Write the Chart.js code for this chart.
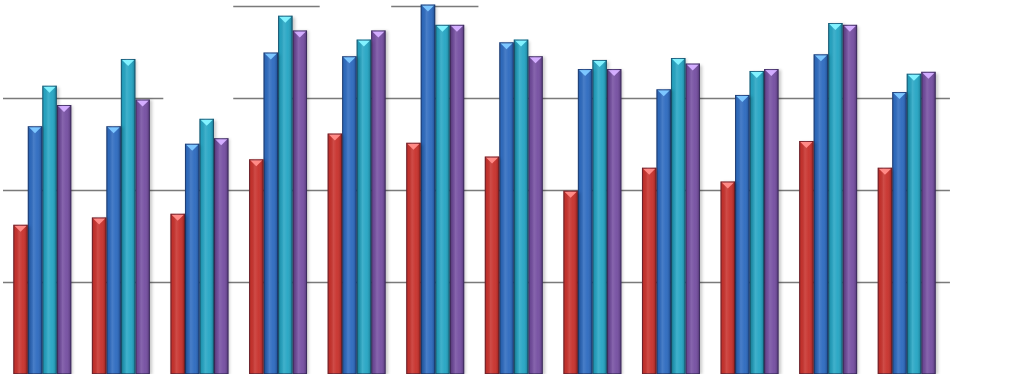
<!DOCTYPE html>
<html>
<head>
<meta charset="utf-8">
<script src="https://cdn.jsdelivr.net/npm/chart.js@4"></script>
<style>
html,body{margin:0;padding:0;background:#fff;}
#wrap{width:1023px;height:389px;position:relative;}
</style>
</head>
<body>
<div id="wrap"><canvas id="c" width="1023" height="389"></canvas></div>
<script>
// ---- data ----
const categories = ["1","2","3","4","5","6","7","8","9","10","11","12"];
const seriesRed    = [16.2, 17.0, 17.4, 23.3, 26.1, 25.1, 23.6, 19.9, 22.4, 20.9, 25.3, 22.4];
const seriesBlue   = [26.9, 26.9, 25.0, 34.9, 34.5, 40.1, 36.0, 33.1, 30.9, 30.3, 34.7, 30.6];
const seriesCyan   = [31.3, 34.2, 27.7, 38.9, 36.3, 37.9, 36.3, 34.1, 34.3, 32.9, 38.1, 32.6];
const seriesPurple = [29.2, 29.8, 25.6, 37.3, 37.3, 37.9, 34.5, 33.1, 33.7, 33.1, 37.9, 32.8];
const gridValues = [10, 20, 30, 40];

const palette = [
  {fill:'#c8332e', tip:'#ff8a86'},
  {fill:'#2f6cc0', tip:'#7cc6ff'},
  {fill:'#27a6c4', tip:'#82f2ff'},
  {fill:'#7650a2', tip:'#d3adff'}
];

// partial gridline segments in category units
const gridSegments = {
  10: [[-0.5, 11.55]],
  20: [[-0.5, 11.55]],
  30: [[-0.5, 1.54], [2.43, 11.55]],
  40: [[2.43, 3.53], [4.44, 5.55]]
};

const gridPlugin = {
  id: 'partialGrid',
  beforeDatasetsDraw(chart) {
    const ctx = chart.ctx, xs = chart.scales.x, ys = chart.scales.y;
    const x0 = xs.getPixelForValue(0), x1 = xs.getPixelForValue(1), step = x1 - x0;
    const px = v => x0 + v * step;
    ctx.save();
    ctx.strokeStyle = '#7a7a7a';
    ctx.lineWidth = 1.5;
    gridValues.forEach(v => {
      const y = Math.round(ys.getPixelForValue(v)) + 0.5;
      (gridSegments[v] || []).forEach(seg => {
        ctx.beginPath();
        ctx.moveTo(px(seg[0]), y);
        ctx.lineTo(px(seg[1]), y);
        ctx.stroke();
      });
    });
    ctx.restore();
  }
};

const barStylePlugin = {
  id: 'barStyle',
  beforeDatasetDraw(chart, args) {
    const ctx = chart.ctx;
    ctx.save();
    ctx.shadowColor = 'rgba(0,0,0,0.22)';
    ctx.shadowBlur = 3;
    ctx.shadowOffsetX = 2;
    ctx.shadowOffsetY = 1;
  },
  afterDatasetDraw(chart, args) {
    const ctx = chart.ctx;
    ctx.restore();
    const meta = args.meta;
    const col = palette[args.index];
    ctx.save();
    meta.data.forEach(el => {
      const p = el.getProps(['x','y','base','width'], true);
      const l = p.x - p.width / 2, r = p.x + p.width / 2;
      const top = p.y, bot = p.base;
      const g = ctx.createLinearGradient(l, 0, r, 0);
      g.addColorStop(0, 'rgba(0,0,0,0.2)');
      g.addColorStop(0.15, 'rgba(0,0,0,0.03)');
      g.addColorStop(0.4, 'rgba(255,255,255,0.12)');
      g.addColorStop(0.65, 'rgba(255,255,255,0.03)');
      g.addColorStop(0.88, 'rgba(0,0,0,0.12)');
      g.addColorStop(1, 'rgba(0,0,0,0.3)');
      ctx.fillStyle = g;
      ctx.fillRect(l, top, r - l, bot - top);
      // top bevel triangle
      const w = p.width;
      ctx.beginPath();
      ctx.moveTo(l + w * 0.08, top + 1);
      ctx.lineTo(r - w * 0.08, top + 1);
      ctx.lineTo(p.x, top + 7);
      ctx.closePath();
      ctx.fillStyle = col.tip;
      ctx.fill();
      // subtle outline
      ctx.strokeStyle = 'rgba(20,20,50,0.4)';
      ctx.lineWidth = 1;
      ctx.strokeRect(l + 0.5, top + 0.5, r - l - 1, bot - top - 1);
    });
    ctx.restore();
  }
};

const seriesList = [seriesRed, seriesBlue, seriesCyan, seriesPurple];
const datasets = seriesList.map((s, i) => ({
  data: s,
  backgroundColor: palette[i].fill,
  borderWidth: 0,
  barPercentage: 1.0,
  categoryPercentage: 0.738
}));

new Chart(document.getElementById('c'), {
  type: 'bar',
  data: { labels: categories, datasets },
  options: {
    responsive: false,
    animation: false,
    layout: { padding: { left: 3, right: 77, top: 0, bottom: 15 } },
    plugins: { legend: { display: false }, tooltip: { enabled: false } },
    scales: {
      x: { display: false },
      y: { display: false, min: 0, max: 40.6 }
    }
  },
  plugins: [gridPlugin, barStylePlugin]
});
</script>
</body>
</html>
